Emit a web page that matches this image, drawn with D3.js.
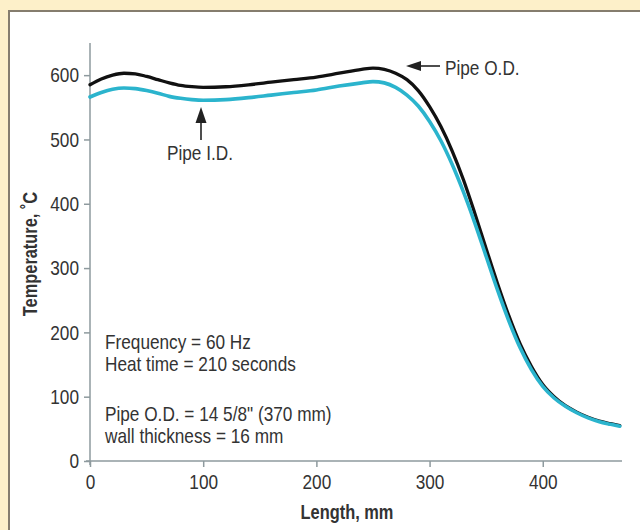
<!DOCTYPE html>
<html>
<head>
<meta charset="utf-8">
<script src="https://cdn.jsdelivr.net/npm/d3@7"></script>
<style>
  html, body { margin: 0; overflow: hidden; background: #fdf0c9; }
  svg { display: block; }
  text { font-family: "Liberation Sans", Arial, sans-serif; fill: #333; }
</style>
</head>
<body>
<script>
// length along the pipe, mm
var lengthMm = [0, 10, 20, 30, 40, 50, 60, 70, 80, 90, 100, 120, 140, 160, 180, 200, 220, 240, 250,
                260, 270, 280, 290, 300, 310, 320, 330, 340, 350, 360, 370, 380, 390, 400, 410,
                420, 430, 440, 450, 460, 468];
// temperature, deg C
var outerTemp = [585, 594, 600, 603, 602, 598, 593, 588, 584, 582, 581, 582, 585, 589, 593, 597, 603, 609, 611,
                 609, 603, 593, 576, 551, 520, 482, 437, 385, 330, 276, 226, 182, 147, 119, 100,
                 86, 76, 68, 62, 58, 55];
var innerTemp = [566, 573, 578, 580, 579, 576, 572, 567, 564, 562, 561, 562, 565, 569, 573, 577, 583, 588, 590,
                 588, 581, 569, 552, 528, 498, 461, 418, 370, 318, 266, 218, 176, 142, 116, 98,
                 85, 75, 67, 61, 57, 54];
var xTicks = [0, 100, 200, 300, 400];
var yTicks = [0, 100, 200, 300, 400, 500, 600];
var notes = ["Frequency = 60 Hz", "Heat time = 210 seconds", "Pipe O.D. = 14 5/8\" (370 mm)", "wall thickness = 16 mm"];
var noteY = [349, 371, 421, 443];

var W = 640, H = 530;
var narrow = 0.82;   // squeeze Liberation Sans to a condensed face

var svg = d3.select("body").append("svg")
    .attr("width", W)
    .attr("height", H);

// white panel
svg.append("rect")
    .attr("x", 9).attr("y", 11)
    .attr("width", W).attr("height", H)
    .attr("fill", "#fff")
    .attr("stroke", "#857d6e")
    .attr("stroke-width", 2);

var x = d3.scaleLinear().domain([0, 470]).range([90, 622]);
var y = d3.scaleLinear().domain([0, 650]).range([461, 43]);

var axisColor = "#8e9a9e";

// y axis
var yAxis = svg.append("g")
    .attr("transform", "translate(" + x(0) + ",0)")
    .call(d3.axisLeft(y).tickValues(yTicks).tickSize(6).tickPadding(5));
yAxis.select(".domain").remove();
yAxis.selectAll("line").attr("stroke", axisColor).attr("stroke-width", 1.5);
yAxis.selectAll("text")
    .attr("x", 0)
    .attr("transform", "translate(-11,0) scale(" + narrow + ",1)")
    .style("font-size", "21px").attr("fill", "#333");
svg.append("line")
    .attr("x1", x(0)).attr("x2", x(0))
    .attr("y1", y(650)).attr("y2", y(0) + 4)
    .attr("stroke", axisColor).attr("stroke-width", 1.5);

// x axis
var xAxis = svg.append("g")
    .attr("transform", "translate(0," + y(0) + ")")
    .call(d3.axisBottom(x).tickValues(xTicks).tickSize(6).tickPadding(7));
xAxis.select(".domain").remove();
xAxis.selectAll("line").attr("stroke", axisColor).attr("stroke-width", 1.5);
xAxis.selectAll("text")
    .attr("transform", "scale(" + narrow + ",1)")
    .style("font-size", "21px").attr("fill", "#333");
svg.append("line")
    .attr("x1", x(0) - 4).attr("x2", x(470))
    .attr("y1", y(0)).attr("y2", y(0))
    .attr("stroke", axisColor).attr("stroke-width", 1.5);

// axis titles
svg.append("text")
    .attr("transform", "translate(347,519) scale(" + narrow + ",1)")
    .attr("text-anchor", "middle")
    .style("font-size", "20px").style("font-weight", "bold")
    .text("Length, mm");
svg.append("text")
    .attr("transform", "translate(37,254) rotate(-90) scale(" + narrow + ",1)")
    .attr("text-anchor", "middle")
    .style("font-size", "20px").style("font-weight", "bold")
    .text("Temperature, ˚C");

// curves
var line = d3.line()
    .x(function(d, i) { return x(lengthMm[i]); })
    .y(function(d) { return y(d); })
    .curve(d3.curveMonotoneX);

svg.append("path")
    .attr("d", line(outerTemp))
    .attr("fill", "none")
    .attr("stroke", "#111")
    .attr("stroke-width", 3.3)
    .attr("stroke-linecap", "round");

svg.append("path")
    .attr("d", line(innerTemp))
    .attr("fill", "none")
    .attr("stroke", "#2bb4cd")
    .attr("stroke-width", 3.6)
    .attr("stroke-linecap", "round");

// arrow heads
function arrowHead(tipX, tipY, dir) {
  var pts = dir === "left"
    ? [[tipX, tipY], [tipX + 15, tipY - 5], [tipX + 15, tipY + 5]]
    : [[tipX, tipY], [tipX - 5.5, tipY + 16], [tipX + 5.5, tipY + 16]];
  svg.append("path")
    .attr("d", "M" + pts.join("L") + "Z")
    .attr("fill", "#222");
}

// Pipe O.D. label
svg.append("line")
    .attr("x1", 418).attr("x2", 440).attr("y1", 66).attr("y2", 66)
    .attr("stroke", "#222").attr("stroke-width", 1.6);
arrowHead(406, 66, "left");
svg.append("text")
    .attr("transform", "translate(445,75) scale(" + narrow + ",1)")
    .style("font-size", "21px")
    .text("Pipe O.D.");

// Pipe I.D. label
svg.append("line")
    .attr("x1", 201).attr("x2", 201).attr("y1", 120).attr("y2", 140)
    .attr("stroke", "#222").attr("stroke-width", 1.6);
arrowHead(201, 107, "up");
svg.append("text")
    .attr("transform", "translate(200,160) scale(" + narrow + ",1)")
    .attr("text-anchor", "middle")
    .style("font-size", "21px")
    .text("Pipe I.D.");

// notes block
svg.append("g").selectAll("text")
    .data(notes)
  .enter().append("text")
    .attr("transform", function(d, i) { return "translate(105," + noteY[i] + ") scale(" + narrow + ",1)"; })
    .style("font-size", "21px")
    .text(function(d) { return d; });
</script>
</body>
</html>
